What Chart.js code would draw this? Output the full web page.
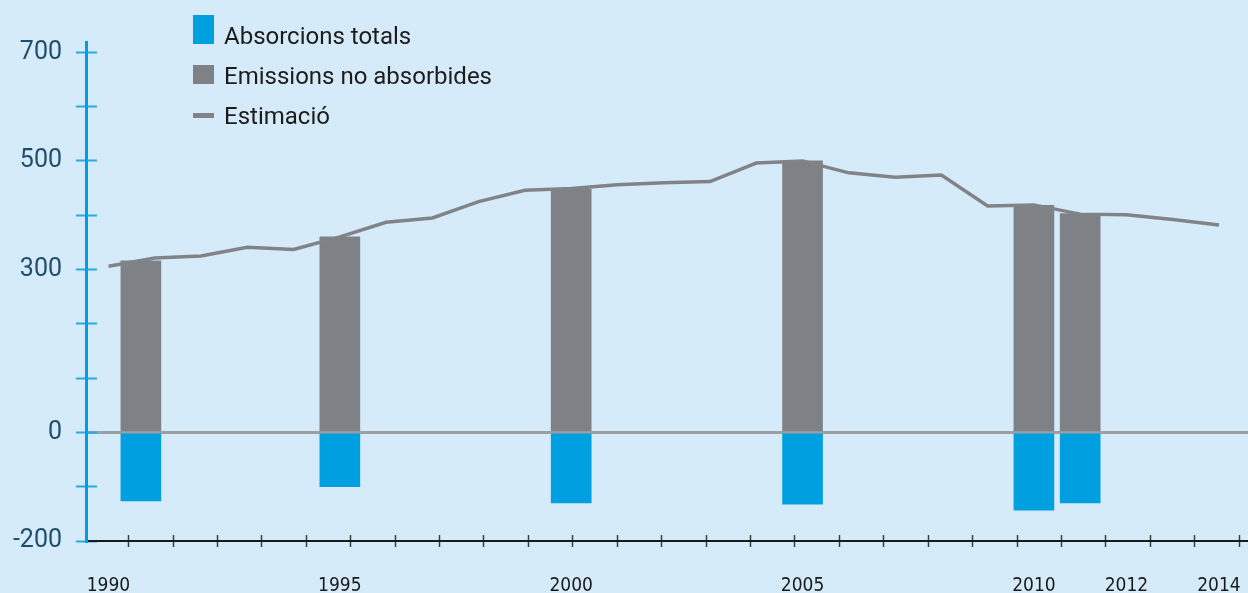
<!DOCTYPE html>
<html>
<head>
<meta charset="utf-8">
<title>Absorcions i emissions</title>
<script src="https://cdn.jsdelivr.net/npm/chart.js@4.4.1/dist/chart.umd.min.js"></script>
<style>
  html, body { margin: 0; padding: 0; background: #d6ebf9; overflow: hidden; }
  #wrap { position: relative; width: 1248px; height: 593px; }
  #legend { position: absolute; left: 0; top: 0; font-family: Roboto, sans-serif; font-size: 24px; line-height: 24px; color: #1c1c1c; }
  #legend .mark { position: absolute; left: 193px; width: 21px; }
  #legend .txt { position: absolute; left: 224px; white-space: nowrap; }
</style>
</head>
<body>
<div id="wrap">
  <canvas id="chart"></canvas>
  <div id="legend"></div>
</div>
<script>
// values
const lineYears = [1990, 1991, 1992, 1993, 1994, 1995, 1996, 1997, 1998, 1999, 2000, 2001, 2002,
                   2003, 2004, 2005, 2006, 2007, 2008, 2009, 2010, 2011, 2012, 2013, 2014];
const estimacio = [306, 321, 325, 341, 337, 360, 387, 395, 425, 446, 449, 456, 460,
                   462, 496, 500, 478, 470, 474, 417, 419, 402, 401, 392, 382];

const barYears = [1990.7, 1995, 2000, 2005, 2010, 2011];
const emissions = [316, 360, 448, 500, 418, 403];
const absorcions = [-126, -100, -130, -132, -143, -130];

const yTicks = [-200, -100, 0, 100, 200, 300, 400, 500, 600, 700];
const yLabels = [700, 500, 300, 0, -200];
const xLabels = [1990, 1995, 2000, 2005, 2010, 2012, 2014];

// axis ranges
const X_MIN = 1989.514, X_MAX = 2014.627;
const Y_MIN = -200, Y_MAX = 719;

const blue = '#009fe0';
const gray = '#7e8286';

const labelFont = { family: 'Roboto, sans-serif', size: 25 };
const yearFont = { family: '"Liberation Sans Narrow", "DejaVu Sans Condensed", Roboto, sans-serif', size: 19 };

const ctx = document.getElementById('chart').getContext('2d');
const chart = new Chart(ctx, {
    type: 'bar',
    data: {
        datasets: [
            {
                label: 'Absorcions totals',
                data: barYears.map((x, i) => ({ x: x, y: absorcions[i] })),
                backgroundColor: blue,
                barThickness: 40,
                grouped: false,
                order: 2
            },
            {
                label: 'Emissions no absorbides',
                data: barYears.map((x, i) => ({ x: x, y: emissions[i] })),
                backgroundColor: gray,
                barThickness: 40,
                grouped: false,
                order: 1
            },
            {
                type: 'line',
                label: 'Estimació',
                data: lineYears.map((x, i) => ({ x: x, y: estimacio[i] })),
                borderColor: '#808488',
                borderWidth: 3.5,
                pointRadius: 0,
                tension: 0,
                fill: false,
                order: 0
            }
        ]
    },
    options: {
        responsive: true,
        maintainAspectRatio: false,
        animation: false,
        events: [],
        layout: { padding: { top: 42, left: 0, right: 0, bottom: 0 } },
        plugins: {
            legend: { display: false },
            tooltip: { enabled: false }
        },
        scales: {
            x: {
                type: 'linear',
                position: 'bottom',
                min: X_MIN,
                max: X_MAX,
                offset: false,
                afterBuildTicks: axis => { axis.ticks = xLabels.map(v => ({ value: v })); },
                ticks: {
                    callback: v => String(v),
                    autoSkip: false,
                    maxRotation: 0,
                    padding: 26,
                    color: '#1a1a1a',
                    font: yearFont
                },
                grid: { display: false, offset: false },
                border: { display: true, color: '#1a1a1a', width: 2 },
                afterFit: axis => { axis.height = 52; axis.paddingLeft = 0; axis.paddingRight = 0; }
            },
            // small crossing tick marks on the year axis
            xMarks: {
                type: 'linear',
                axis: 'x',
                position: { y: -188.95 },
                min: X_MIN,
                max: X_MAX,
                afterBuildTicks: axis => { axis.ticks = lineYears.map(v => ({ value: v + 0.45 })); },
                ticks: { display: false },
                grid: { drawOnChartArea: false, drawTicks: true, tickLength: 12, tickColor: '#3c3c3c', tickWidth: 1.5 },
                border: { display: false }
            },
            y: {
                type: 'linear',
                position: 'left',
                min: Y_MIN,
                max: Y_MAX,
                z: 1,
                afterBuildTicks: axis => { axis.ticks = yTicks.map(v => ({ value: v })); },
                ticks: {
                    callback: v => yLabels.includes(v) ? String(v) : '',
                    autoSkip: false,
                    padding: 24,
                    color: '#1f4d6b',
                    font: labelFont
                },
                grid: {
                    drawTicks: false,
                    color: c => (c.tick && c.tick.value === 0) ? '#9da0a2' : 'rgba(0,0,0,0)',
                    lineWidth: 3
                },
                border: { display: true, color: '#009ee0', width: 3 },
                afterFit: axis => { axis.width = 86; axis.paddingTop = 0; axis.paddingBottom = 0; }
            },
            // crossing tick marks on the value axis
            yMarks: {
                type: 'linear',
                axis: 'y',
                position: { x: 1989.752 },
                min: Y_MIN,
                max: Y_MAX,
                afterBuildTicks: axis => { axis.ticks = yTicks.map(v => ({ value: v })); },
                ticks: { display: false },
                grid: { drawOnChartArea: false, drawTicks: true, tickLength: 21, tickColor: '#2ba9e2', tickWidth: 2 },
                border: { display: false }
            }
        }
    }
});

// html legend built from the datasets
function buildLegend(chart) {
    const holder = document.getElementById('legend');
    const markSize = [29, 19, 5];
    chart.data.datasets.forEach((ds, i) => {
        const baseline = 44 + i * 40;
        const mark = document.createElement('div');
        mark.className = 'mark';
        const h = markSize[i];
        mark.style.height = h + 'px';
        mark.style.background = ds.type === 'line' ? ds.borderColor : ds.backgroundColor;
        // boxes sit on the baseline, the line sits at mid cap height
        mark.style.top = (ds.type === 'line' ? baseline - 9 - h / 2 : baseline - h) + 'px';
        holder.appendChild(mark);

        const txt = document.createElement('div');
        txt.className = 'txt';
        txt.textContent = ds.label;
        txt.style.top = (baseline - 20) + 'px';
        holder.appendChild(txt);
    });
}
buildLegend(chart);
</script>
</body>
</html>
